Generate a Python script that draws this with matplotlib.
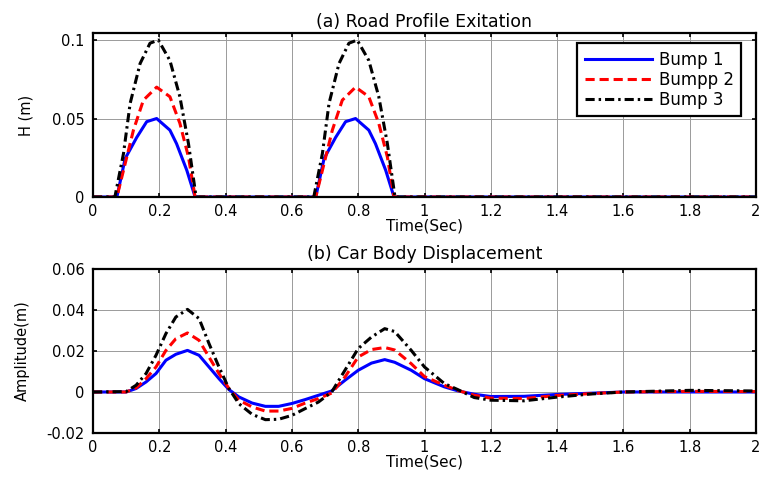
import matplotlib
matplotlib.use("Agg")
import matplotlib.pyplot as plt

plt.rcParams['font.family'] = ['DejaVu Sans']

# ---------------- data: (a) road profile ----------------
t_b1 = [0, 0.072, 0.097, 0.132, 0.162, 0.192, 0.232, 0.252, 0.283, 0.308,
        0.672, 0.697, 0.732, 0.762, 0.792, 0.832, 0.852, 0.883, 0.908, 2.0]
h_b1 = [0, 0, 0.0245, 0.038, 0.048, 0.05, 0.0426, 0.034, 0.017, 0,
        0, 0.0245, 0.038, 0.048, 0.05, 0.0426, 0.034, 0.017, 0, 0]

t_b2 = [0, 0.072, 0.092, 0.122, 0.152, 0.192, 0.232, 0.262, 0.288, 0.308,
        0.672, 0.692, 0.722, 0.752, 0.792, 0.832, 0.862, 0.888, 0.908, 2.0]
h_b2 = [0, 0, 0.017, 0.0426, 0.0617, 0.07, 0.0639, 0.047, 0.0255, 0,
        0, 0.017, 0.0426, 0.0617, 0.07, 0.0639, 0.047, 0.0255, 0, 0]

t_b3 = [0, 0.066, 0.092, 0.112, 0.142, 0.172, 0.197, 0.232, 0.262, 0.288, 0.311,
        0.666, 0.692, 0.712, 0.742, 0.772, 0.797, 0.832, 0.862, 0.888, 0.911, 2.0]
h_b3 = [0, 0, 0.0277, 0.0596, 0.085, 0.098, 0.1, 0.087, 0.064, 0.034, 0,
        0, 0.0277, 0.0596, 0.085, 0.098, 0.1, 0.087, 0.064, 0.034, 0, 0]

# ---------------- data: (b) car body displacement ----------------
t_body = [0, 0.1, 0.13, 0.16, 0.19, 0.22, 0.25, 0.285, 0.32, 0.35, 0.38, 0.41,
          0.44, 0.48, 0.52, 0.56, 0.60, 0.64, 0.68, 0.72, 0.76, 0.80, 0.84,
          0.88, 0.91, 0.96, 1.0, 1.06, 1.1, 1.15, 1.2, 1.3, 1.4, 1.5, 1.6,
          1.8, 2.0]
d_b1 = [0, 0, 0.0017, 0.0049, 0.009, 0.0155, 0.0184, 0.0203, 0.0179, 0.0122,
        0.0065, 0.0012, -0.0024, -0.0054, -0.007, -0.007, -0.0056, -0.0037,
        -0.0016, 0.0005, 0.0057, 0.0106, 0.0141, 0.0158, 0.0145, 0.0106,
        0.0065, 0.0025, 0.0006, -0.0011, -0.0022, -0.0021, -0.0012, -0.0006,
        0, 0, 0]
d_b2 = [0, 0, 0.002, 0.0065, 0.0122, 0.0203, 0.026, 0.0288, 0.0252, 0.017,
        0.009, 0.0017, -0.004, -0.0073, -0.0093, -0.0093, -0.008, -0.0054,
        -0.0032, -0.0005, 0.0073, 0.0171, 0.0207, 0.0217, 0.0205, 0.0138,
        0.0075, 0.0033, 0.0008, -0.0016, -0.003, -0.0032, -0.0017, -0.0008,
        0, 0.0003, 0.0002]
d_b3 = [0, 0.0002, 0.0033, 0.009, 0.0179, 0.0285, 0.0366, 0.0403, 0.0358,
        0.0236, 0.0122, 0.0017, -0.0057, -0.0109, -0.0135, -0.0133, -0.0114,
        -0.0081, -0.0049, 0, 0.0106, 0.0212, 0.0268, 0.0309, 0.0295, 0.0203,
        0.0122, 0.0041, 0.0012, -0.0027, -0.004, -0.0043, -0.0025, -0.001,
        0, 0.0008, 0.0005]

labels = ['Bump 1', 'Bumpp 2', 'Bump 3']
x_ticks = [0, 0.2, 0.4, 0.6, 0.8, 1, 1.2, 1.4, 1.6, 1.8, 2]
x_ticklabels = ['0', '0.2', '0.4', '0.6', '0.8', '1', '1.2', '1.4', '1.6', '1.8', '2']
y1_ticks = [0, 0.05, 0.1]
y1_ticklabels = ['0', '0.05', '0.1']
y2_ticks = [-0.02, 0, 0.02, 0.04, 0.06]
y2_ticklabels = ['-0.02', '0', '0.02', '0.04', '0.06']

W, H = 762, 479
fig = plt.figure(figsize=(W / 100, H / 100), dpi=100)

def ax_rect(l, t, r, b):
    return [l / W, 1 - b / H, (r - l) / W, (b - t) / H]

ax1 = fig.add_axes(ax_rect(93, 33, 756, 197))
ax2 = fig.add_axes(ax_rect(93, 269, 756, 433))

lw = 2.2
styles = [dict(color='#0000ff', linestyle='-'),
          dict(color='#ff0000', linestyle=(0, (3, 1.6))),
          dict(color='#000000', linestyle=(0, (3, 1.3, 0.8, 1.3)))]

for t, h, lab, st in zip([t_b1, t_b2, t_b3], [h_b1, h_b2, h_b3], labels, styles):
    ax1.plot(t, h, lw=lw, label=lab, **st)
for d, st in zip([d_b1, d_b2, d_b3], styles):
    ax2.plot(t_body, d, lw=lw, **st)

tfs = 10.5
lfs = 11
for ax, yt, ytl, ylim in [(ax1, y1_ticks, y1_ticklabels, (0, 0.1045)),
                          (ax2, y2_ticks, y2_ticklabels, (-0.02, 0.06))]:
    ax.set_xlim(0, 2)
    ax.set_ylim(*ylim)
    ax.set_xticks(x_ticks)
    ax.set_xticklabels(x_ticklabels, fontsize=tfs)
    ax.set_yticks(yt)
    ax.set_yticklabels(ytl, fontsize=tfs)
    ax.grid(True, color='#9a9a9a', linewidth=0.7, linestyle='-')
    ax.set_axisbelow(True)
    ax.tick_params(axis='x', direction='in', length=3, width=1.2, top=True,
                   pad=5, colors='black')
    ax.tick_params(axis='y', direction='in', length=3, width=1.2, right=True,
                   pad=6, colors='black')
    for s in ax.spines.values():
        s.set_linewidth(1.6)
    ax.set_xlabel('Time(Sec)', fontsize=lfs, labelpad=0)

ax1.set_title('(a) Road Profile Exitation', fontsize=12.5, pad=4)
ax2.set_title('(b) Car Body Displacement', fontsize=12.5, pad=7)
ax1.set_ylabel('H (m)', fontsize=10.5, labelpad=13)
ax2.set_ylabel('Amplitude(m)', fontsize=10.5, labelpad=12)

leg = ax1.legend(loc='upper right', bbox_to_anchor=(0.9775, 0.939),
                 borderaxespad=0, fontsize=12, handlelength=4.0,
                 handletextpad=0.42, labelspacing=0.12, borderpad=0.45,
                 fancybox=False, framealpha=1, edgecolor='black')
leg.get_frame().set_linewidth(1.6)

fig.savefig('out.png', dpi=100)
